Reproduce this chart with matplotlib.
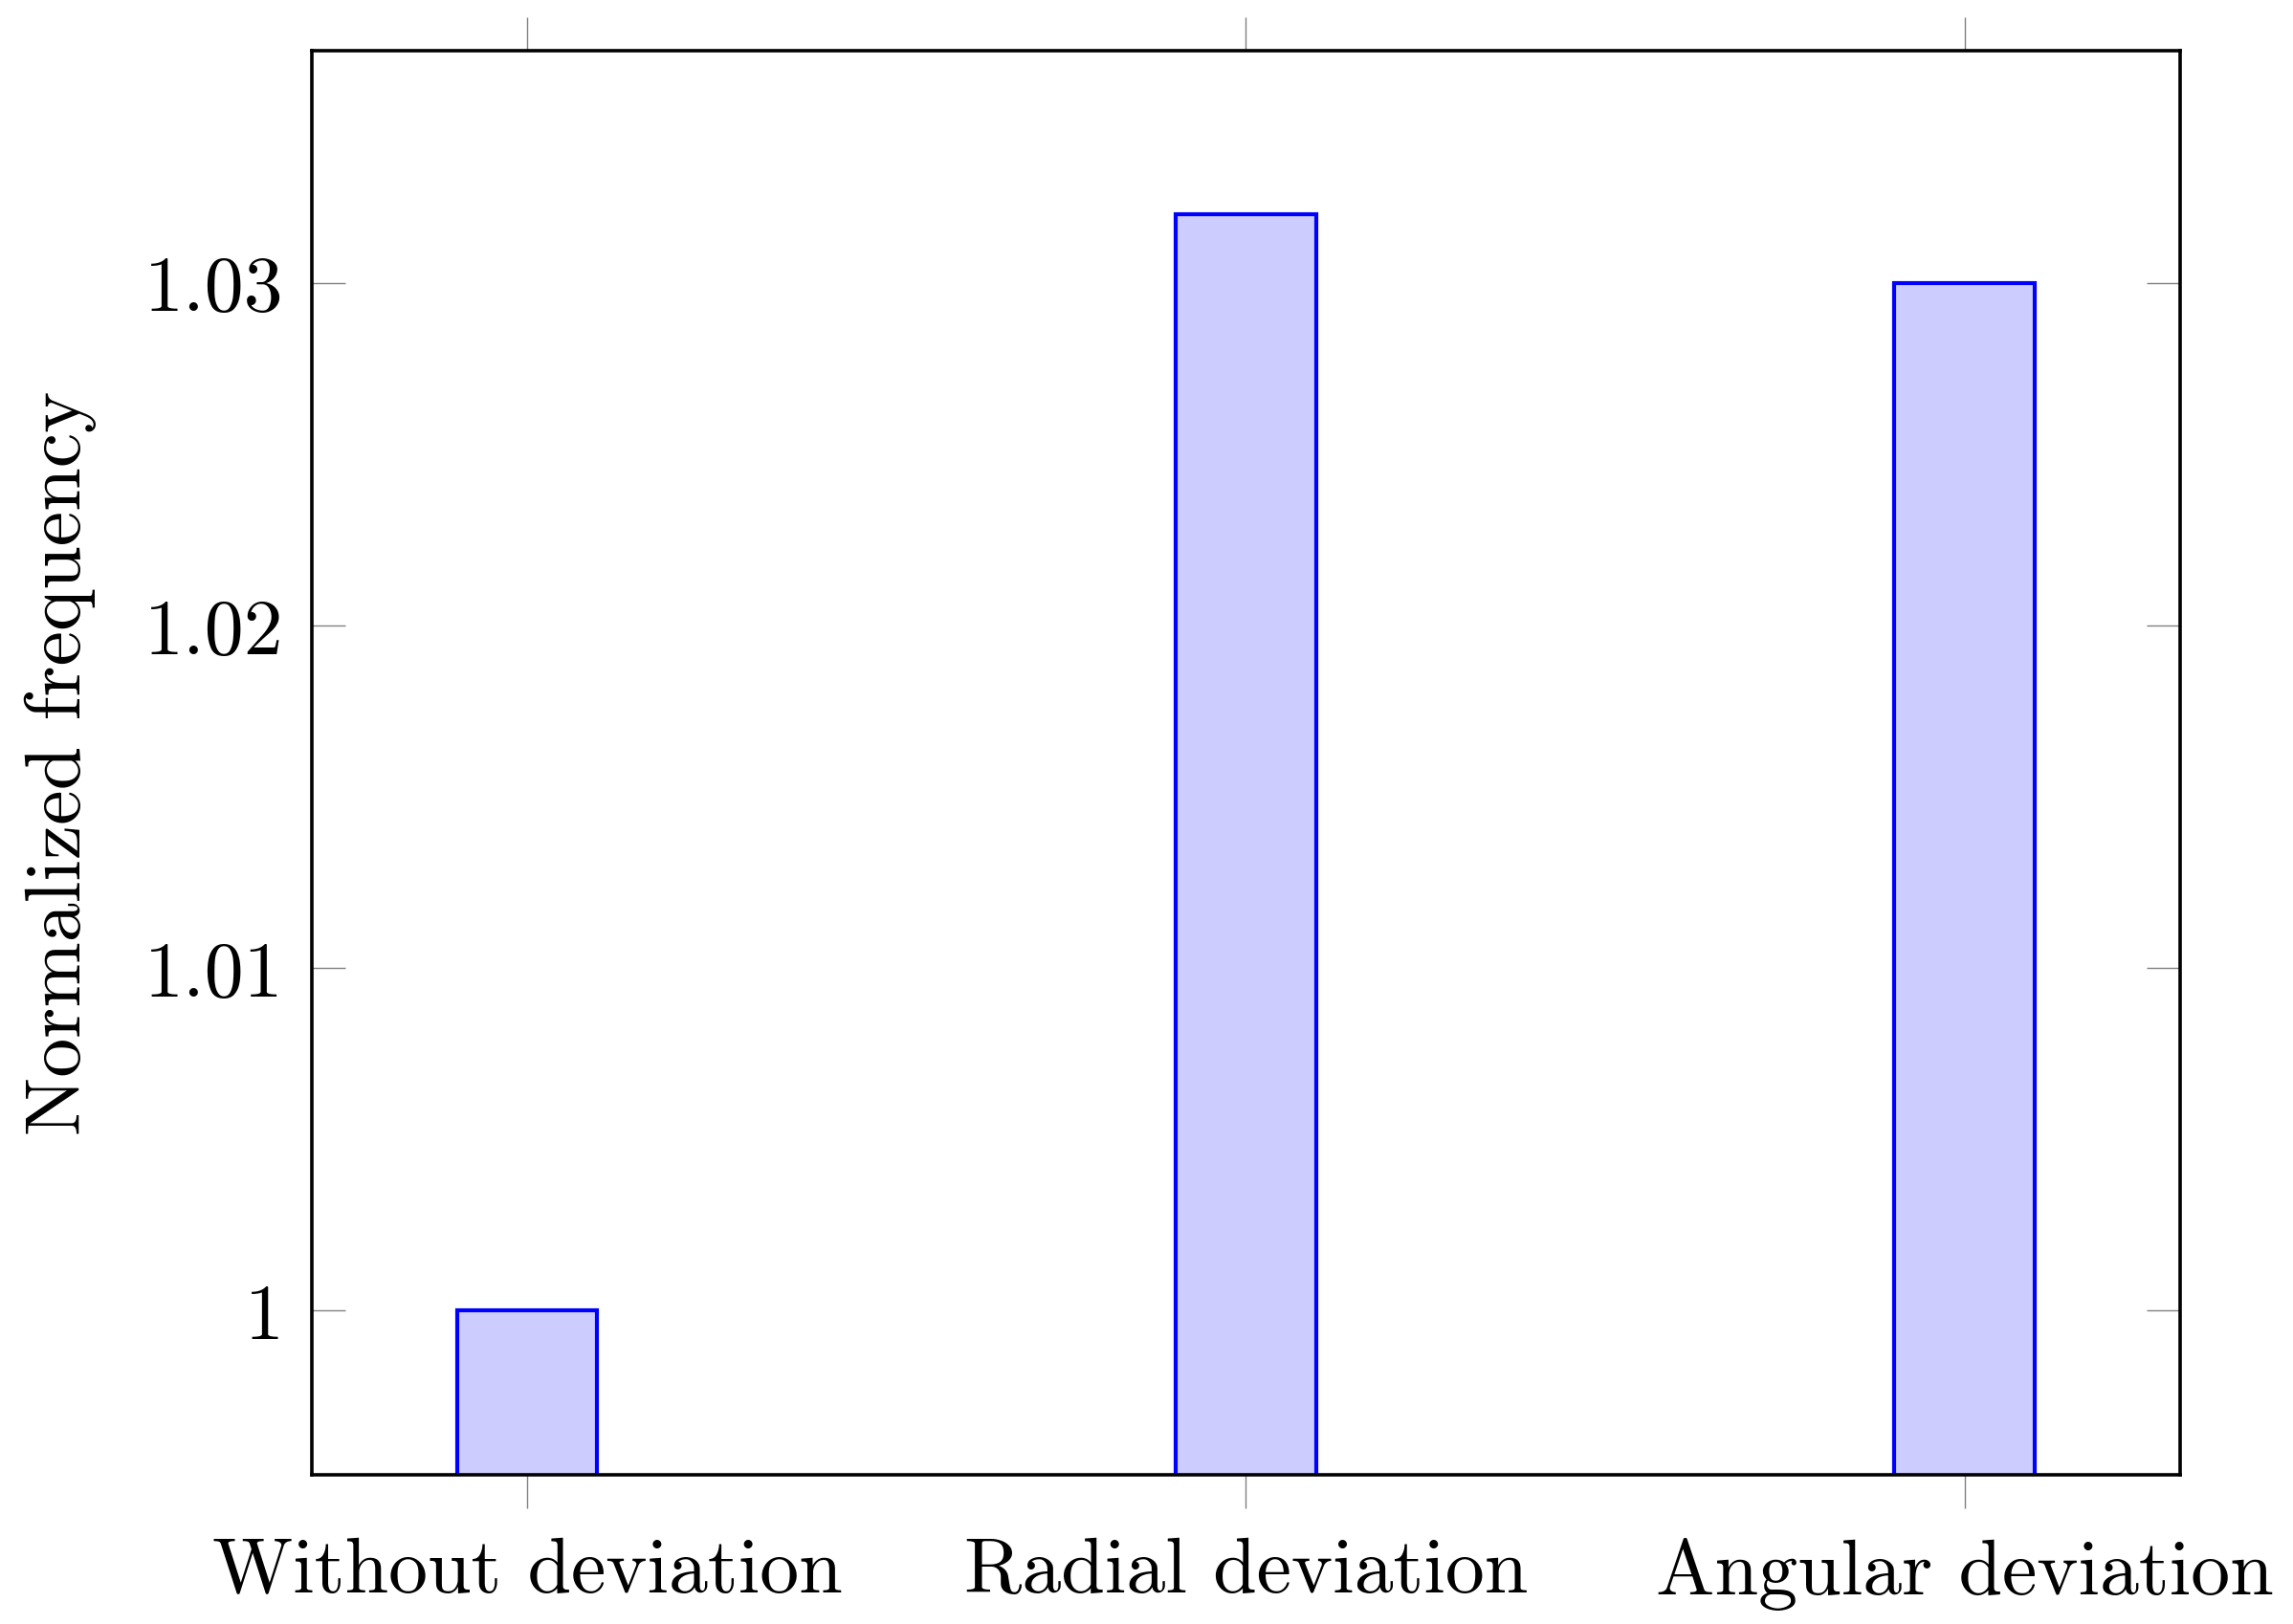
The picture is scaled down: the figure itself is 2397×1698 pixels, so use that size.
import matplotlib.pyplot as plt
from matplotlib.ticker import FixedLocator, FixedFormatter

# Categories and values
categories = ["Without deviation", "Radial deviation", "Angular deviation"]
values = [1.000, 1.032, 1.030]

# y tick values / labels
ytick_values = [1.00, 1.01, 1.02, 1.03]
ytick_labels = ["1", "1.01", "1.02", "1.03"]

plt.rcParams['font.family'] = 'cmr10'
plt.rcParams['axes.formatter.use_mathtext'] = True

W, H = 2397, 1699
fig = plt.figure(figsize=(W / 100, H / 100), dpi=100)
left, right, top, bottom = 325.6, 2279, 53.5, 1542.5
ax = fig.add_axes([left / W, 1 - bottom / H, (right - left) / W, (bottom - top) / H])

x = list(range(len(categories)))
ax.bar(x, values, width=0.195, bottom=0, color="#ccccff", edgecolor="#0000ff",
       linewidth=3.0, zorder=2)

ax.set_xlim(-0.3, 2.3)
ax.set_ylim(0.99522, 1.03679)

ax.xaxis.set_major_locator(FixedLocator(x))
ax.xaxis.set_major_formatter(FixedFormatter(categories))
ax.yaxis.set_major_locator(FixedLocator(ytick_values))
ax.yaxis.set_major_formatter(FixedFormatter(ytick_labels))

ax.tick_params(axis='x', direction='out', length=25, width=1.0, color='#808080',
               top=True, bottom=True, labelsize=59, pad=22)
ax.tick_params(axis='y', direction='in', length=25, width=1.0, color='#808080',
               left=True, right=True, labelsize=59, pad=21)
for s in ax.spines.values():
    s.set_linewidth(2.6)
    s.set_zorder(3)

ax.set_ylabel("Normalized frequency", fontsize=59, labelpad=36)

plt.savefig("out.png", dpi=100)
